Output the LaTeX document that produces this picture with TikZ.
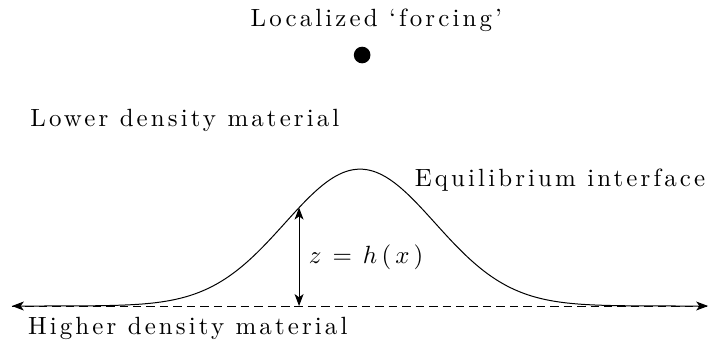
\documentclass[tikz,border=0pt]{standalone}
\usepackage{fontspec}
\newfontfamily\spaced{Latin Modern Roman}[LetterSpace=12.5]
\usetikzlibrary{arrows.meta}
\begin{document}
\begin{tikzpicture}[
        lbl/.style={font=\spaced, inner sep=0pt},
        both/.style={{Stealth[length=4.8pt, width=3.6pt, inset=1.3pt]}-{Stealth[length=4.8pt, width=3.6pt, inset=1.3pt]}},
        iface/.style={line width=0.4pt},
        ref/.style={dashed, dash pattern=on 3.4pt off 2pt, line width=0.4pt}
    ]
    \useasboundingbox (-5.078,-0.578) rectangle (4.922,4.316);
    % base line and equilibrium interface
    \coordinate (left) at (-4.91,0);
    \coordinate (right) at (4.91,0);
    \draw[ref] (left) -- (right);
    \draw[iface, both]
        plot[domain=-4.91:4.91, samples=150, smooth] (\x, {1.93*exp(-(\x*\x)/(2*1.058*1.058))});
    % displacement
    \coordinate (foot) at (-0.86,0);
    \coordinate (crest) at (-0.86,{1.93*exp(-(0.86*0.86)/(2*1.058*1.058))});
    \draw[iface, both] (foot) -- (crest);
    \node[lbl, anchor=west] (hx) at (-0.73,0.69) {$z\mskip3mu=\mskip3mu h\mskip3mu(\mskip3mu x\mskip3mu)$};

    % forcing
    \node[lbl] (forcing) at (0.23,4.03) {Localized ‘forcing’};
    \node[circle, fill, inner sep=0pt, minimum size=0.235cm] (dot) at (0.03,3.54) {};

    % labels
    \node[lbl] (lower) at (-2.47,2.62) {Lower density material};
    \node[lbl] (eq) at (2.82,1.78) {Equilibrium interface};
    \node[lbl] (higher) at (-2.43,-0.32) {Higher density material};
\end{tikzpicture}
\end{document}
